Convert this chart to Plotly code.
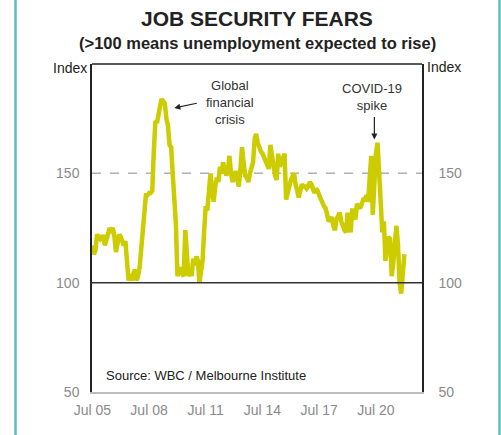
import pandas as pd
import plotly.graph_objects as go

# Westpac-Melbourne Institute unemployment expectations index, monthly from Jul 2005
start_month = "2005-07-01"
index_values = [
    117, 113, 115, 122, 121, 120, 121, 121, 117, 120, 124, 125, 124, 125, 121, 114,
    118, 122, 121, 119, 117, 119, 108, 101, 104, 101, 104, 106, 101, 103, 107, 116,
    125, 131, 140, 140, 141, 141, 142, 160, 174, 173, 176, 181, 184, 183, 182, 175,
    172, 163, 162, 150, 138, 127, 103, 106, 107, 104, 103, 124, 112, 103, 105, 103,
    111, 108, 112, 110, 100, 104, 110, 124, 135, 133, 140, 150, 142, 137, 144, 148,
    146, 153, 150, 155, 152, 149, 151, 158, 150, 146, 149, 151, 147, 144, 152, 162,
    155, 149, 148, 146, 150, 153, 155, 166, 168, 164, 161, 160, 159, 157, 156, 154,
    152, 163, 157, 153, 149, 147, 159, 153, 155, 156, 159, 138, 142, 144, 147, 149,
    150, 145, 141, 139, 142, 145, 144, 144, 143, 144, 146, 145, 143, 141, 143, 142,
    140, 138, 136, 135, 134, 131, 128, 129, 130, 126, 124, 129, 131, 132, 128, 125,
    124, 123, 132, 127, 123, 134, 130, 129, 136, 135, 134, 136, 138, 138, 140, 137,
    145, 158, 131, 153, 159, 164, 146, 130, 123, 128, 110, 116, 121, 120, 103, 109,
    117, 126, 117, 100, 95, 106, 113,
]
tick_dates = ["2005-07-01", "2008-07-01", "2011-07-01", "2014-07-01", "2017-07-01", "2020-07-01"]
tick_labels = ["Jul 05", "Jul 08", "Jul 11", "Jul 14", "Jul 17", "Jul 20"]
y_ticks = [50, 100, 150]

dates = pd.date_range(start=start_month, periods=len(index_values), freq="MS")

FONT = "Liberation Sans, Arial, sans-serif"
LINE_COLOR = "#cccc00"
TICK_GREY = "#8a8a8a"
TEAL = "#5bbfbb"

fig = go.Figure()
fig.add_trace(go.Scatter(
    x=dates, y=index_values, mode="lines",
    line=dict(color=LINE_COLOR, width=4.5),
    hoverinfo="skip", showlegend=False,
))
# invisible trace so the right-hand axis is drawn
fig.add_trace(go.Scatter(
    x=[dates[0]], y=[100], yaxis="y2", mode="markers",
    marker=dict(opacity=0), hoverinfo="skip", showlegend=False,
))

fig.update_layout(
    width=501, height=435,
    margin=dict(l=92, r=79, t=64, b=43),
    paper_bgcolor="white", plot_bgcolor="white",
    font=dict(family=FONT, size=14, color=TICK_GREY),
    xaxis=dict(
        range=["2005-06-25", "2022-12-08"],
        tickvals=tick_dates, ticktext=tick_labels,
        showgrid=False, zeroline=False,
        ticks="outside", ticklen=4, tickcolor="rgba(0,0,0,0)",
        showline=True, linecolor="#bdbdbd", linewidth=2,
        tickfont=dict(size=14, color=TICK_GREY),
    ),
    yaxis=dict(
        range=[50, 200], tickvals=y_ticks,
        showgrid=False, zeroline=False,
        ticks="outside", ticklen=8, tickcolor="rgba(0,0,0,0)",
        showline=True, linecolor="#222", linewidth=1.5, mirror=False,
        tickfont=dict(size=14, color=TICK_GREY),
    ),
    yaxis2=dict(
        range=[50, 200], tickvals=y_ticks, overlaying="y", side="right",
        showgrid=False, zeroline=False,
        ticks="outside", ticklen=12, tickcolor="rgba(0,0,0,0)",
        showline=True, linecolor="#222", linewidth=1.5,
        tickfont=dict(size=14, color=TICK_GREY),
    ),
    shapes=[
        # dashed reference at 150
        dict(type="line", xref="paper", yref="y", x0=0, x1=1, y0=150, y1=150,
             line=dict(color="#b0b0b0", width=1.5, dash="dash"), layer="below"),
        # threshold line at 100
        dict(type="line", xref="paper", yref="y", x0=-0.005, x1=1, y0=100, y1=100,
             line=dict(color="#333333", width=1.5), layer="above"),
        # top border of the plot frame
        dict(type="line", xref="paper", yref="paper", x0=0, x1=1, y0=1, y1=1,
             line=dict(color="#222", width=1.5)),
        # teal page borders
        dict(type="line", xref="paper", yref="paper", x0=-0.2318, x1=-0.2318, y0=-0.2, y1=1.3,
             line=dict(color=TEAL, width=2.5)),
        dict(type="line", xref="paper", yref="paper", x0=1.2348, x1=1.2348, y0=-0.2, y1=1.3,
             line=dict(color=TEAL, width=2.5)),
    ],
    annotations=[
        dict(text="<b>JOB SECURITY FEARS</b>", xref="paper", yref="paper",
             x=0.5, y=1.140, xanchor="center", yanchor="middle", showarrow=False,
             font=dict(size=21, color="#222", family=FONT)),
        dict(text="<b>(>100 means unemployment expected to rise)</b>", xref="paper", yref="paper",
             x=0.5, y=1.064, xanchor="center", yanchor="middle", showarrow=False,
             font=dict(size=16.5, color="#222", family=FONT)),
        dict(text="Index", xref="paper", yref="paper", x=0, y=1, xanchor="right", yanchor="middle",
             xshift=-3, yshift=-4, showarrow=False, font=dict(size=14, color="#222")),
        dict(text="Index", xref="paper", yref="paper", x=1, y=1, xanchor="left", yanchor="middle",
             xshift=3, yshift=-3, showarrow=False, font=dict(size=14, color="#222")),
        dict(text="Source: WBC / Melbourne Institute", xref="paper", yref="paper",
             x=0, y=0, xanchor="left", yanchor="middle", xshift=12, yshift=17,
             showarrow=False, font=dict(size=13, color="#222")),
        dict(text="Global<br>financial<br>crisis", xref="x", yref="y",
             x="2012-10-15", y=182.3, xanchor="center", yanchor="middle",
             showarrow=False, font=dict(size=13, color="#333")),
        dict(text="", xref="x", yref="y", x="2009-11-01", y=179.9,
             ax=24, ay=-5, axref="pixel", ayref="pixel",
             showarrow=True, arrowhead=2, arrowsize=1, arrowwidth=1.2, arrowcolor="#222"),
        dict(text="COVID-19<br>spike", xref="x", yref="y",
             x="2020-04-10", y=185, xanchor="center", yanchor="middle",
             showarrow=False, font=dict(size=13, color="#333")),
        dict(text="", xref="x", yref="y", x="2020-06-01", y=165.5,
             ax=0, ay=-24, axref="pixel", ayref="pixel",
             showarrow=True, arrowhead=2, arrowsize=1, arrowwidth=1.2, arrowcolor="#222"),
    ],
)

fig.write_html("out.html")
